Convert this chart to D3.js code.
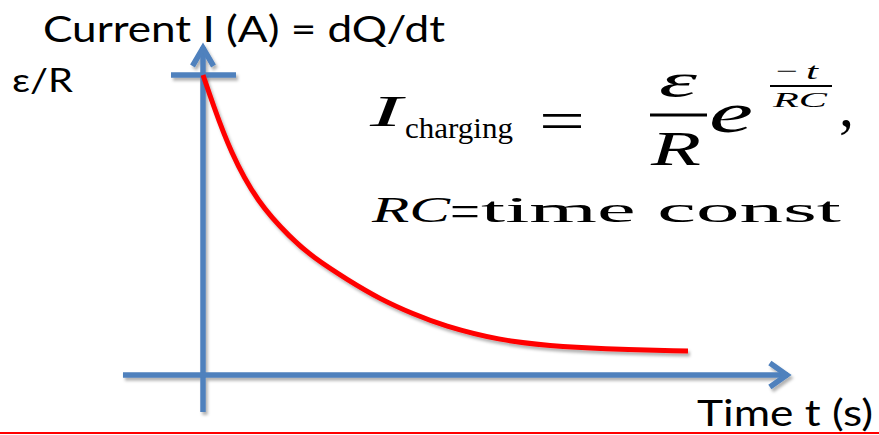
<!DOCTYPE html>
<html>
<head>
<meta charset="utf-8">
<script src="https://cdn.jsdelivr.net/npm/d3@7"></script>
<style>
  html, body { margin: 0; padding: 0; background: #fff; }
  svg { display: block; }
</style>
</head>
<body>
<svg id="chart" width="879" height="435"></svg>
<script>
// Charging current of an RC circuit, in units of ε/R, against time
const times    = [0, 0.10, 0.28, 0.56, 0.91, 1.13, 1.49, 1.83, 2.17, 2.47, 3.06, 3.58, 4.09, 5.0];
const currents = [1.0, 0.905, 0.745, 0.575, 0.455, 0.393, 0.317, 0.252, 0.203, 0.165, 0.115, 0.097, 0.087, 0.08];

// Axis labels
const yAxisTitle = "Current I (A) = dQ/dt";
const yMaxLabel  = "ε/R";
const xAxisTitle = "Time t (s)";

const svg = d3.select("#chart");
const W = 879, H = 435;

const x = d3.scaleLinear().domain([0, 5]).range([203, 688]);
const y = d3.scaleLinear().domain([0, 1]).range([375, 75]);

const axisColor = "#4F81BD";
const curveColor = "#FF0000";

// soft drop shadow under the drawn shapes
const defs = svg.append("defs");
const f = defs.append("filter").attr("id", "shadow")
  .attr("x", "-20%").attr("y", "-20%").attr("width", "140%").attr("height", "140%");
f.append("feDropShadow").attr("dx", 2).attr("dy", 3).attr("stdDeviation", 1.6)
  .attr("flood-color", "#000").attr("flood-opacity", 0.3);

const g = svg.append("g");

// vertical (current) axis with open arrowhead
const yLo = -0.123, yHi = 1.1;
const ax = g.append("g").attr("filter", "url(#shadow)")
  .attr("stroke", axisColor).attr("stroke-width", 5.5).attr("fill", "none");
ax.append("line")
  .attr("x1", x(0)).attr("x2", x(0))
  .attr("y1", y(yLo)).attr("y2", y(yHi) + 2);
ax.append("path")
  .attr("stroke-linejoin", "miter")
  .attr("d", `M${x(0) - 10.5},${y(yHi) + 21} L${x(0)},${y(yHi) + 3} L${x(0) + 10.5},${y(yHi) + 21}`);

// marker at I = ε/R
ax.append("line")
  .attr("x1", x(0) - 32).attr("x2", x(0) + 33)
  .attr("y1", y(1)).attr("y2", y(1));

// horizontal (time) axis with open arrowhead
const xLo = -0.825, xHi = 6.05;
ax.append("line")
  .attr("x1", x(xLo)).attr("x2", x(xHi) - 2)
  .attr("y1", y(0)).attr("y2", y(0));
ax.append("path")
  .attr("stroke-linejoin", "miter")
  .attr("d", `M${x(xHi) - 20},${y(0) - 12} L${x(xHi) - 3},${y(0)} L${x(xHi) - 20},${y(0) + 12}`);

// decay curve
const pts = times.map((t, i) => [t, currents[i]]);
const line = d3.line().x(d => x(d[0])).y(d => y(d[1])).curve(d3.curveBasis);
g.append("path")
  .datum(pts)
  .attr("filter", "url(#shadow)")
  .attr("fill", "none")
  .attr("stroke", curveColor)
  .attr("stroke-width", 5)
  .attr("d", line);

// labels
const sans = "Lato, 'Open Sans', sans-serif";
svg.append("text").text(yAxisTitle)
  .attr("x", 43).attr("y", 42)
  .attr("font-family", sans).attr("font-size", 36).attr("fill", "#000")
  .attr("textLength", 402).attr("lengthAdjust", "spacingAndGlyphs");
svg.append("text").text(yMaxLabel)
  .attr("x", 12).attr("y", 92)
  .attr("font-family", sans).attr("font-size", 33).attr("fill", "#000")
  .attr("textLength", 61).attr("lengthAdjust", "spacingAndGlyphs");
svg.append("text").text(xAxisTitle)
  .attr("x", 697).attr("y", 426)
  .attr("font-family", sans).attr("font-size", 37).attr("fill", "#000")
  .attr("textLength", 176).attr("lengthAdjust", "spacingAndGlyphs");

// formula: I_charging = (ε/R) e^(−t/RC),  RC = time const
const serif = "'Liberation Serif', 'Times New Roman', serif";
const eq = svg.append("g").attr("font-family", serif).attr("fill", "#000");
function tx(s, px, py, size, opts = {}) {
  const t = eq.append("text").text(s)
    .attr("x", px).attr("y", py).attr("font-size", size);
  if (opts.italic) t.attr("font-style", "italic");
  if (opts.anchor) t.attr("text-anchor", opts.anchor);
  if (opts.len) t.attr("textLength", opts.len).attr("lengthAdjust", "spacingAndGlyphs");
  return t;
}
tx("I", 370, 126, 44, { italic: true, len: 32 });
tx("charging", 405, 138, 30, { len: 108 });
tx("=", 539, 140, 56, { len: 46 });
tx("ε", 678, 97, 48, { italic: true, anchor: "middle", len: 38 });
eq.append("rect").attr("x", 650).attr("y", 113.5).attr("width", 57).attr("height", 3);
tx("R", 676, 165, 48, { italic: true, anchor: "middle", len: 50 });
tx("e", 709, 132, 58, { italic: true, len: 44 });
tx("−", 776, 79, 24, { len: 22 });
tx("t", 806, 79, 24, { italic: true, len: 12 });
eq.append("rect").attr("x", 770).attr("y", 85).attr("width", 62).attr("height", 2);
tx("RC", 800, 107, 22, { italic: true, anchor: "middle", len: 54 });
tx(",", 839, 126, 60, {});

tx("RC", 372, 222, 36, { italic: true, len: 78 });
tx("=", 450, 226, 44, { len: 30 });
tx("time const", 481, 222, 35, { len: 360 });

// rule along the bottom edge
svg.append("line")
  .attr("x1", 0).attr("x2", W)
  .attr("y1", 433).attr("y2", 433)
  .attr("stroke", curveColor).attr("stroke-width", 2);
</script>
</body>
</html>
